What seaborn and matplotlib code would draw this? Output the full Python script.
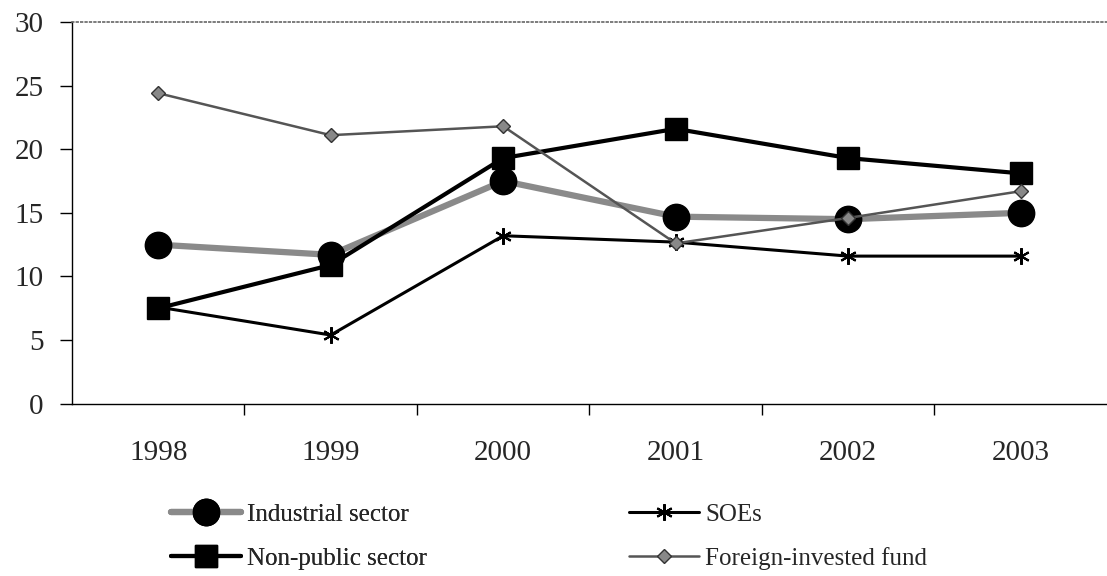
import pandas as pd
import matplotlib
matplotlib.use("Agg")
import matplotlib.pyplot as plt
import seaborn as sns

# values
years = ["1998", "1999", "2000", "2001", "2002", "2003"]
industrial = [12.5, 11.7, 17.5, 14.7, 14.5, 15.0]
soes = [7.6, 5.4, 13.2, 12.7, 11.6, 11.6]
non_public = [7.5, 10.9, 19.3, 21.6, 19.3, 18.1]
foreign = [24.4, 21.1, 21.8, 12.6, 14.6, 16.7]

sns.set_theme(style="white")
plt.rcParams["font.family"] = ["Liberation Serif", "DejaVu Serif"]

pos = list(range(len(years)))
df = pd.DataFrame({"pos": pos, "Industrial sector": industrial, "SOEs": soes,
                   "Non-public sector": non_public, "Foreign-invested fund": foreign})

fig = plt.figure(figsize=(11.07, 5.76), dpi=100)
ax = fig.add_axes([0.065, 0.299, 0.935, 0.663])

styles = {
    "Industrial sector": dict(color="#8a8a8a", lw=4.5, marker="o", ms=19, mfc="black", mec="black"),
    "SOEs": dict(color="black", lw=2.2, marker=(6, 2, 0), ms=12, mfc="black", mec="black", mew=1.5),
    "Non-public sector": dict(color="black", lw=3, marker="s", ms=16, mfc="black", mec="black"),
    "Foreign-invested fund": dict(color="#555555", lw=1.8, marker="D", ms=7, mfc="#888888", mec="#333333"),
}
handles = {}
for name, st in styles.items():
    sns.lineplot(data=df, x="pos", y=name, ax=ax, color=st["color"], linewidth=st["lw"],
                 marker=st["marker"], markersize=st["ms"], markerfacecolor=st["mfc"],
                 markeredgecolor=st["mec"], markeredgewidth=st.get("mew", 1))
    handles[name] = ax.lines[-1]

ax.set_xlim(-0.5, 5.5)
ax.set_ylim(0, 30)
ax.set_yticks(range(0, 31, 5))
ax.set_xticks([0.5, 1.5, 2.5, 3.5, 4.5])
ax.set_xticklabels([])
ax.set_xticks(pos, minor=True)
ax.set_xticklabels(years, minor=True)
ax.tick_params(axis="x", which="major", direction="out", length=8, width=1, color="black", bottom=True)
ax.tick_params(axis="x", which="minor", length=0, pad=26, labelsize=21)
ax.tick_params(axis="y", direction="out", length=8.5, width=1, color="black", left=True, labelsize=21, pad=12)
ax.set_xlabel("")
ax.set_ylabel("")

for s in ["left", "bottom"]:
    ax.spines[s].set_color("black")
    ax.spines[s].set_linewidth(1)
ax.spines["right"].set_visible(False)
ax.spines["top"].set_color("#666666")
ax.spines["top"].set_linestyle(":")
ax.spines["top"].set_linewidth(1.2)

# two legend columns placed separately
leg_kw = dict(loc="center left", frameon=False, fontsize=18, borderpad=0,
              handlelength=2.8, handletextpad=0.25, labelspacing=0.85)
col1 = ["Industrial sector", "Non-public sector"]
col2 = ["SOEs", "Foreign-invested fund"]
leg1 = fig.legend([handles[n] for n in col1], col1, bbox_to_anchor=(0.143, 0.068), **leg_kw)
fig.add_artist(leg1)
fig.legend([handles[n] for n in col2], col2, bbox_to_anchor=(0.557, 0.068), **leg_kw)

fig.savefig("out.png", dpi=100)
